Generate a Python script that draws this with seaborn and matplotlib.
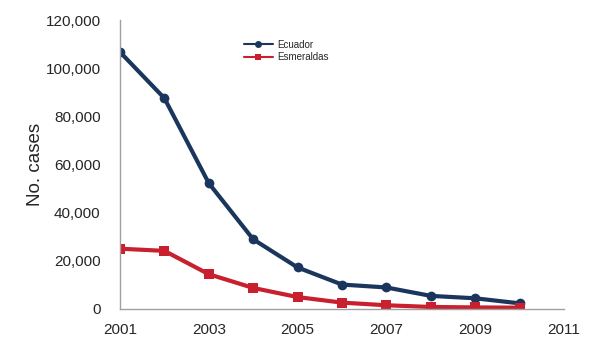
import numpy as np
import pandas as pd
import matplotlib
matplotlib.use("Agg")
import matplotlib.pyplot as plt
import seaborn as sns
from matplotlib.ticker import FuncFormatter

# ---------- Data ----------
years = [2001, 2002, 2003, 2004, 2005, 2006, 2007, 2008, 2009, 2010]
ecuador = [106700, 87500, 52200, 28900, 17200, 10100, 8900, 5400, 4400, 2300]
esmeraldas = [25000, 24100, 14400, 8700, 4900, 2600, 1500, 800, 600, 500]

df = pd.DataFrame({"Year": years, "Ecuador": ecuador, "Esmeraldas": esmeraldas})
long_df = df.melt(id_vars="Year", var_name="Region", value_name="Cases")

sns.set_style("white")
plt.rcParams["font.family"] = ["Liberation Sans", "DejaVu Sans"]

fig = plt.figure(figsize=(6.0, 3.51), dpi=100)
ax = fig.add_axes([0.2, 0.12, 0.74, 0.823])

palette = {"Ecuador": "#1b365d", "Esmeraldas": "#c8202f"}
markers = {"Ecuador": "o", "Esmeraldas": "s"}
sns.lineplot(data=long_df, x="Year", y="Cases", hue="Region", style="Region",
             palette=palette, markers=markers, dashes=False, linewidth=3,
             markersize=7, markeredgewidth=0, ax=ax)

ax.set_xlim(2001, 2011)
ax.set_ylim(0, 120000)
ax.set_xticks([2001, 2003, 2005, 2007, 2009, 2011])
ax.set_yticks(np.arange(0, 120001, 20000))
ax.yaxis.set_major_formatter(FuncFormatter(lambda v, p: f"{int(v):,}"))
ax.set_xlabel("")
ax.set_ylabel("No. cases", fontsize=13.5, labelpad=1)
ax.tick_params(axis="both", labelsize=11, direction="out", length=4, width=1,
               color="#a0a0a0")
ax.tick_params(axis="y", pad=10)
ax.tick_params(axis="x", pad=6)

for side in ["top", "right"]:
    ax.spines[side].set_visible(False)
for side in ["left", "bottom"]:
    ax.spines[side].set_color("#a0a0a0")
    ax.spines[side].set_linewidth(1)

leg = ax.legend(loc="upper left", bbox_to_anchor=(0.27, 0.945), frameon=False,
                fontsize=7, handlelength=3, labelspacing=0.25, borderaxespad=0,
                handletextpad=0.4)
for h in leg.legend_handles:
    h.set_linewidth(1.5)
    h.set_markersize(5)

fig.savefig("out.png", dpi=100)
